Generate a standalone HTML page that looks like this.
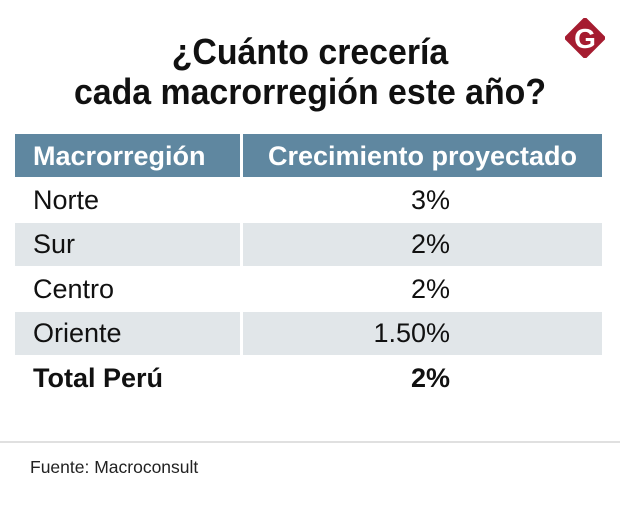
<!DOCTYPE html>
<html><head><meta charset="utf-8">
<style>
body{margin:0;width:620px;height:510px;background:#fff;position:relative;overflow:hidden;font-family:"Liberation Sans",sans-serif;}
.a{position:absolute;}
.title{left:0;width:620px;text-align:center;font-weight:bold;font-size:36px;color:#111;line-height:40px;transform:scaleX(0.94);transform-origin:310px 0;}
.cell{position:absolute;height:43px;}
.hdr{background:#5f87a0;color:#fff;font-weight:bold;font-size:27px;line-height:44px;}
.txt{font-size:27px;color:#111;line-height:43px;}
.val{position:absolute;right:152px;text-align:right;}
</style></head><body>
<div class="a" style="left:565px;top:18px;width:40px;height:40px;">
<svg width="40" height="40" viewBox="0 0 40 40"><polygon points="20,0 40,20 20,40 0,20" fill="#a51c30" stroke="#a51c30" stroke-width="2" stroke-linejoin="round"/><text x="20" y="30" text-anchor="middle" font-family="Liberation Sans, sans-serif" font-weight="bold" font-size="28" fill="#fff">G</text></svg></div>
<div class="a title" style="top:32px;">¿Cuánto crecería<br>cada macrorregión este año?</div>

<div class="cell hdr" style="left:15px;top:134px;width:225px;padding-left:18px;box-sizing:border-box;">Macrorregión</div>
<div class="cell hdr" style="left:243px;top:134px;width:359px;text-align:center;">Crecimiento proyectado</div>

<div id="rows"></div>
<div class="a" style="left:0;top:441px;width:620px;height:2px;background:#e0e0e0;"></div>
<div class="a" style="left:30px;top:457px;font-size:17.5px;color:#222;">Fuente: Macroconsult</div>
<script>
const regions=["Norte","Sur","Centro","Oriente","Total Perú"];
const values=["3%","2%","2%","1.50%","2%"];
const root=document.getElementById('rows');
const tops=[179,223,268,312,357];
regions.forEach((r,i)=>{
  const bold=i===regions.length-1;
  const bg=(i%2===1)?'#e1e6e9':'transparent';
  const c1=document.createElement('div');
  
  
  c1.className='cell txt';
  c1.style.cssText=`left:15px;top:${tops[i]}px;width:225px;padding-left:18px;box-sizing:border-box;background:${bg};font-weight:${bold?'bold':'normal'};`;
  c1.textContent=r;root.appendChild(c1);
  const c2=document.createElement('div');
  
  
  c2.className='cell txt';
  c2.style.cssText=`left:243px;top:${tops[i]}px;width:359px;background:${bg};font-weight:${bold?'bold':'normal'};`;
  const s=document.createElement('span');s.className='val';s.textContent=values[i];
  c2.appendChild(s);root.appendChild(c2);
});
</script>
</body></html>
